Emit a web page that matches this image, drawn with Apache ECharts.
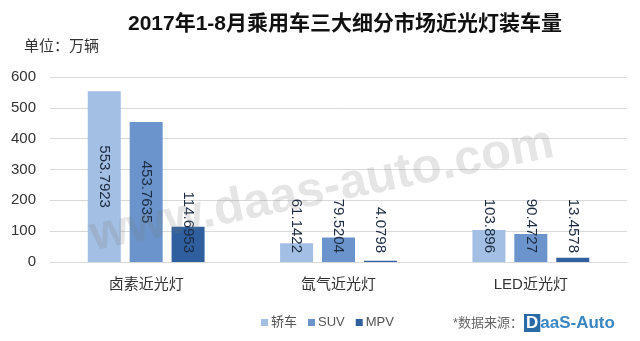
<!DOCTYPE html>
<html>
<head>
<meta charset="utf-8">
<script src="https://cdn.jsdelivr.net/npm/echarts@6/dist/echarts.min.js"></script>
<style>
  html, body { margin: 0; padding: 0; background: #ffffff; }
  #chart { width: 640px; height: 341px; }
</style>
</head>
<body>
<div id="chart"></div>
<script>
// 近光灯装车量（万辆），按车型分组
var categories = ['卤素近光灯', '氙气近光灯', 'LED近光灯'];
var sedanValues = [553.7923, 61.1422, 103.896];
var suvValues = [453.7635, 79.5204, 90.4727];
var mpvValues = [114.6953, 4.0798, 13.4578];
var seriesNames = ['轿车', 'SUV', 'MPV'];
var yTicks = [0, 100, 200, 300, 400, 500, 600];

var FONT = '"Liberation Sans", Arial, "Noto Sans CJK SC", sans-serif';
var colors = ['#a3bfe3', '#6a94cb', '#2f5f9e'];
var LABEL_SIZE = 15;

var chart = echarts.init(document.getElementById('chart'), null, { renderer: 'canvas' });

function makeSeries(name, values, color) {
  return {
    name: name,
    type: 'bar',
    barWidth: 33,
    barGap: '27%',
    itemStyle: { color: color },
    data: values.map(function (v) { return { value: v }; }),
    label: {
      show: true,
      position: 'inside',
      rotate: -90,
      fontSize: LABEL_SIZE,
      fontFamily: FONT,
      color: '#1c2b40',
      formatter: function (p) { return String(p.value); }
    },
    z: 2
  };
}

var option = {
  animation: false,
  backgroundColor: '#ffffff',
  textStyle: { fontFamily: FONT },
  title: {
    text: '2017年1-8月乘用车三大细分市场近光灯装车量',
    left: 340,
    top: 9,
    textAlign: 'center',
    textStyle: { fontSize: 21, fontWeight: 'bold', color: '#111', fontFamily: FONT }
  },
  grid: { left: 50, right: 13, top: 77, bottom: 79 },
  legend: {
    data: seriesNames,
    left: 256,
    top: 311,
    itemWidth: 7,
    itemHeight: 7,
    itemGap: 11,
    icon: 'rect',
    textStyle: { fontSize: 13, color: '#555', fontFamily: FONT, padding: [0, 0, 0, -2] }
  },
  xAxis: {
    type: 'category',
    data: categories,
    axisLine: { show: true, lineStyle: { color: '#d9d9d9', width: 1 } },
    axisTick: { show: false },
    axisLabel: { fontSize: 15, color: '#333', margin: 15, fontFamily: FONT }
  },
  yAxis: {
    type: 'value',
    min: yTicks[0],
    max: yTicks[yTicks.length - 1],
    interval: 100,
    axisLine: { show: false },
    axisTick: { show: false },
    splitLine: { lineStyle: { color: '#d9d9d9', width: 1 } },
    axisLabel: { fontSize: 15, color: '#333', margin: 14, fontFamily: FONT }
  },
  series: [
    makeSeries(seriesNames[0], sedanValues, colors[0]),
    makeSeries(seriesNames[1], suvValues, colors[1]),
    makeSeries(seriesNames[2], mpvValues, colors[2])
  ],
  graphic: [
    {
      type: 'text',
      left: 24,
      top: 39,
      style: { text: '单位：万辆', fontSize: 15, fill: '#333', fontFamily: FONT }
    },
    {
      type: 'text',
      x: 322,
      y: 190,
      rotation: 11.5 * Math.PI / 180,
      z: 10,
      silent: true,
      style: {
        text: 'www.daas-auto.com',
        fontSize: 49,
        fontWeight: 'bold',
        fontFamily: FONT,
        fill: 'rgba(125,125,125,0.2)',
        align: 'center',
        verticalAlign: 'middle'
      }
    },
    {
      type: 'text',
      left: 453,
      top: 317,
      style: { text: '*数据来源：', fontSize: 13, fill: '#666', fontFamily: FONT }
    },
    {
      type: 'text',
      left: 524,
      top: 314,
      style: {
        text: '{d|D}{t|aaS-Auto}',
        rich: {
          d: { fontSize: 17, fontWeight: 'bold', fontFamily: FONT, fill: '#ffffff', backgroundColor: '#2a6aa6', padding: [1, 2, 0, 2] },
          t: { fontSize: 17, fontWeight: 'bold', fontFamily: FONT, fill: '#3a86c3' }
        }
      }
    }
  ]
};

chart.setOption(option);

// Short bars: lift the rotated value label so its end sits just above the axis
var ctx = document.createElement('canvas').getContext('2d');
ctx.font = LABEL_SIZE + 'px ' + FONT;
var zeroY = chart.convertToPixel({ yAxisIndex: 0 }, 0);
var allValues = [sedanValues, suvValues, mpvValues];
var newSeries = allValues.map(function (values) {
  return {
    data: values.map(function (v) {
      var barH = zeroY - chart.convertToPixel({ yAxisIndex: 0 }, v);
      var textLen = ctx.measureText(String(v)).width;
      var center = Math.max(barH / 2, 9 + textLen / 2);
      var lift = center - barH / 2;
      return { value: v, label: { offset: [-lift, 0] } };
    })
  };
});
chart.setOption({ series: newSeries });
</script>
</body>
</html>
